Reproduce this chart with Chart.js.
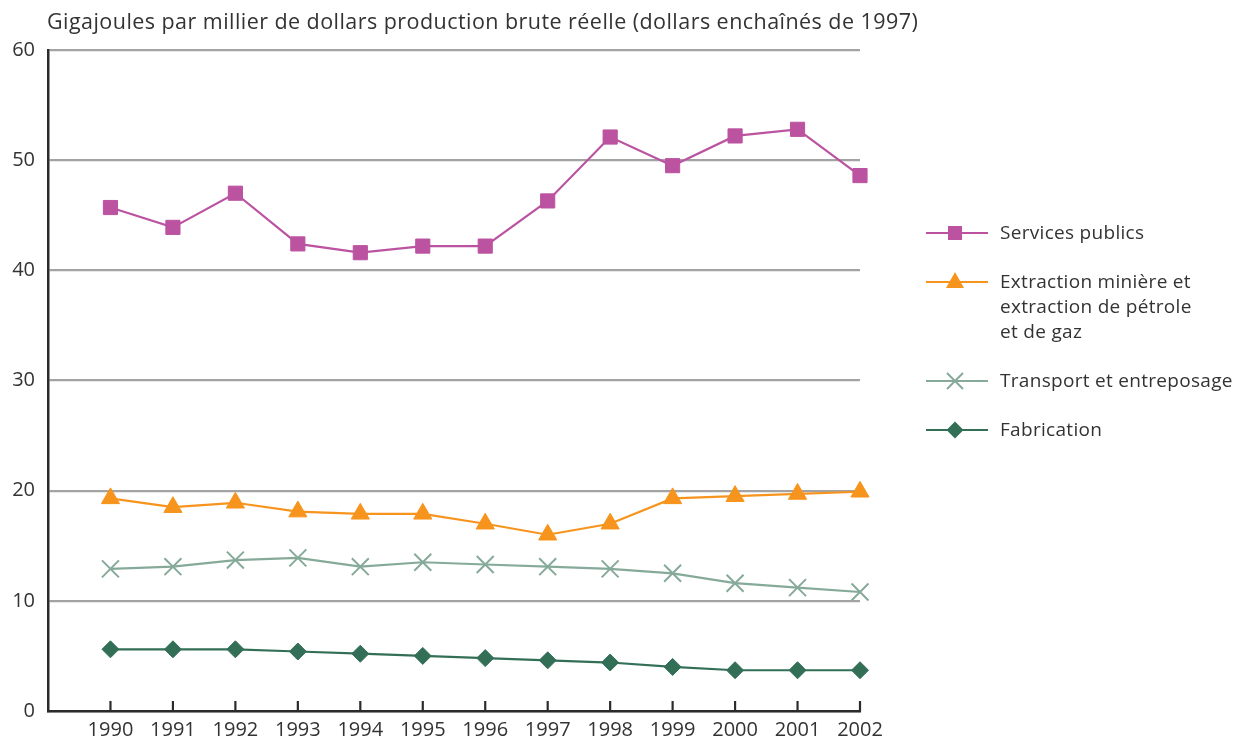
<!DOCTYPE html>
<html><head><meta charset="utf-8">
<script src="https://cdn.jsdelivr.net/npm/chart.js@4.4.1/dist/chart.umd.min.js"></script>
<style>
html,body{margin:0;padding:0;background:#fff;}
#wrap{position:relative;width:1234px;height:742px;font-family:'Open Sans',sans-serif;color:#333;overflow:hidden;}
#title{position:absolute;left:47px;top:6px;font-size:21.5px;letter-spacing:0.45px;line-height:30px;white-space:nowrap;}
#c{position:absolute;left:0;top:0;}
.lg{position:absolute;left:925px;}
.lg svg{position:absolute;left:0;}
.lg .t{position:absolute;left:75px;top:0;font-size:19px;letter-spacing:0.3px;line-height:25px;white-space:nowrap;}
</style></head>
<body>
<div id="wrap">
<canvas id="c" width="1234" height="742"></canvas>
<div id="title">Gigajoules par millier de dollars production brute réelle (dollars enchaînés de 1997)</div>
<div id="legend"></div>
</div>
<script>
const years = [1990,1991,1992,1993,1994,1995,1996,1997,1998,1999,2000,2001,2002];
const servicesPublics = [45.7,43.9,47.0,42.4,41.6,42.2,42.2,46.3,52.1,49.5,52.2,52.8,48.6];
const extraction = [19.3,18.5,18.9,18.1,17.9,17.9,17.0,16.0,17.0,19.3,19.5,19.7,19.9];
const transport = [12.9,13.1,13.7,13.9,13.1,13.5,13.3,13.1,12.9,12.5,11.6,11.2,10.8];
const fabrication = [5.6,5.6,5.6,5.4,5.2,5.0,4.8,4.6,4.4,4.0,3.7,3.7,3.7];
const seriesLabels = [
  ['Services publics'],
  ['Extraction minière et','extraction de pétrole','et de gaz'],
  ['Transport et entreposage'],
  ['Fabrication']
];
const yTicks = [0,10,20,30,40,50,60];

const seriesValues = [servicesPublics, extraction, transport, fabrication];
const colors = ['#bb53a0','#f7941d','#86aa99','#336f57'];
const styles = ['rect','triangle','crossRot','rectRot'];
const radii = [10,10.5,12,8.5];
const legendTops = [233,282,381,430];

const datasets = seriesValues.map((vals,i)=>({
  label: seriesLabels[i].join(' '),
  data: years.map((yr,j)=>({x:yr,y:vals[j]})),
  borderColor: colors[i],
  backgroundColor: colors[i],
  pointBackgroundColor: colors[i],
  pointBorderColor: colors[i],
  pointStyle: styles[i],
  pointRadius: radii[i],
  pointHoverRadius: radii[i],
  pointBorderWidth: styles[i]==='crossRot'?2:1,
  borderWidth: 2.2,
  tension: 0,
  clip: false
}));

const innerTicks = {
  id:'innerTicks',
  beforeDatasetsDraw(chart){
    const xs = chart.scales.x, ctx = chart.ctx, b = chart.chartArea.bottom;
    ctx.save(); ctx.strokeStyle='#2b2b2b'; ctx.lineWidth=2.2;
    years.forEach(yr=>{const px=xs.getPixelForValue(yr); ctx.beginPath(); ctx.moveTo(px,b); ctx.lineTo(px,b-10); ctx.stroke();});
    ctx.restore();
  }
};

Chart.defaults.font.family = "'Open Sans', sans-serif";
Chart.defaults.color = '#333';

new Chart(document.getElementById('c'), {
  type:'line',
  data:{datasets},
  options:{
    responsive:false, animation:false, devicePixelRatio:1,
    layout:{padding:{top:50,right:374,bottom:0,left:0}},
    plugins:{legend:{display:false},tooltip:{enabled:false}},
    scales:{
      x:{type:'linear',min:1989,max:2002,
        afterBuildTicks(s){ s.ticks = years.map(v=>({value:v})); },
        afterFit(s){ s.height=31; s.paddingLeft=0; s.paddingRight=0; },
        grid:{display:false,drawTicks:false},
        border:{color:'#2b2b2b',width:2.5},
        ticks:{autoSkip:false,maxRotation:0,padding:7,font:{size:20},color:'#333',callback:v=>String(v)}
      },
      y:{min:0,max:60,
        afterBuildTicks(s){ s.ticks = yTicks.map(v=>({value:v})); },
        afterFit(s){ s.width=48; s.paddingTop=0; s.paddingBottom=0; },
        grid:{color:'#a3a3a3',lineWidth:2.2,drawTicks:false},
        border:{color:'#2b2b2b',width:2.5},
        ticks:{padding:13,font:{size:20},color:'#333',callback:v=>String(v)}
      }
    }
  },
  plugins:[innerTicks]
});

// HTML legend
const lg = document.getElementById('legend');
function markerSVG(i){
  const c = colors[i]; const cx=30, cy=12;
  let m='';
  if(styles[i]==='rect') m=`<rect x="${cx-7}" y="${cy-7}" width="14" height="14" fill="${c}"/>`;
  if(styles[i]==='triangle') m=`<polygon points="${cx},${cy-10} ${cx+9},${cy+6} ${cx-9},${cy+6}" fill="${c}"/>`;
  if(styles[i]==='crossRot') m=`<path d="M${cx-8},${cy-8}L${cx+8},${cy+8}M${cx+8},${cy-8}L${cx-8},${cy+8}" stroke="${c}" stroke-width="2"/>`;
  if(styles[i]==='rectRot') m=`<polygon points="${cx},${cy-8.5} ${cx+8.5},${cy} ${cx},${cy+8.5} ${cx-8.5},${cy}" fill="${c}"/>`;
  return `<svg width="66" height="24" viewBox="0 0 66 24"><line x1="1" y1="${cy}" x2="63" y2="${cy}" stroke="${c}" stroke-width="2.2"/>${m}</svg>`;
}
seriesLabels.forEach((lines,i)=>{
  const d=document.createElement('div'); d.className='lg';
  d.style.top=(legendTops[i]-12)+'px';
  d.innerHTML = markerSVG(i) + `<div class="t" style="top:-1px">${lines.join('<br>')}</div>`;
  lg.appendChild(d);
});
</script>
</body></html>
